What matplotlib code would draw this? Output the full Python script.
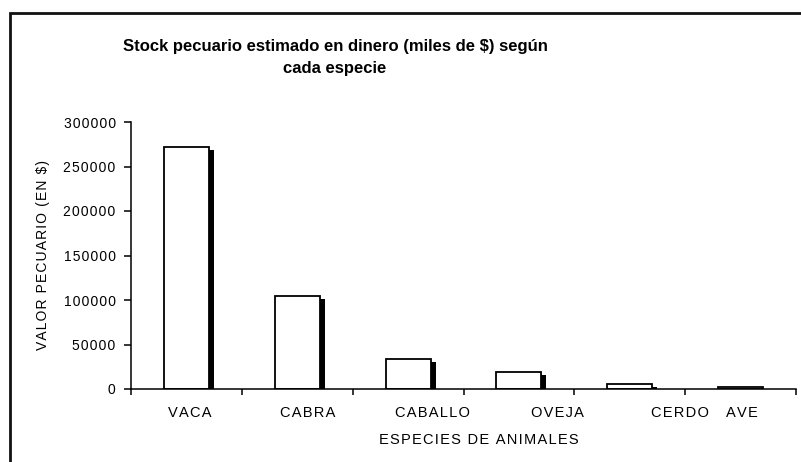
import numpy as np
import matplotlib
matplotlib.use("Agg")
import matplotlib.pyplot as plt
from matplotlib import transforms
from matplotlib.patches import Rectangle

especies = ["VACA", "CABRA", "CABALLO", "OVEJA", "CERDO", "AVE"]
valores = [272000, 104000, 33500, 19000, 5600, 2500]
yticks = [0, 50000, 100000, 150000, 200000, 250000, 300000]

titulo = ["Stock pecuario estimado en dinero (miles de $) según", "cada especie"]
xlabel = "ESPECIES DE ANIMALES"
ylabel = "VALOR PECUARIO (EN $)"

plt.rcParams["font.family"] = ["Liberation Sans", "DejaVu Sans"]


def spaced(s, sp="\u200a"):
    # Excel-style letter spacing
    return sp.join(s)


W, H = 801, 462
fig = plt.figure(figsize=(W / 100, H / 100), dpi=100)
ax = fig.add_axes([131 / W, (H - 389) / H, 665 / W, 267 / H])

x = np.arange(len(especies))
ancho = 0.406

# black shadow, shifted right and down
sombra = transforms.offset_copy(ax.transData, fig=fig, x=5, y=-3, units="dots")
ax.bar(x, valores, ancho, color="black", transform=sombra, zorder=1)
ax.bar(x, valores, ancho, color="white", edgecolor="black", linewidth=1.3, zorder=2)

ax.set_xlim(-0.5, len(especies) - 0.5)
ax.set_ylim(0, 300000)

for s in ["top", "right"]:
    ax.spines[s].set_visible(False)
ax.spines["left"].set_linewidth(1.1)
ax.spines["bottom"].set_linewidth(1.1)

ax.set_yticks(yticks)
ax.set_yticklabels([spaced(str(v)) for v in yticks])
ax.tick_params(axis="y", direction="out", length=5, width=1.1, pad=6, labelsize=10)

ax.set_xticks(np.arange(len(especies) + 1) - 0.5)
ax.set_xticklabels([])
ax.tick_params(axis="x", direction="out", length=4, width=1.1)

# category labels (Excel placed them a bit off-centre)
desplaz = [3, 10, 24, 39, 50, 1]
for i, (nombre, dx) in enumerate(zip(especies, desplaz)):
    ax.annotate(spaced(nombre), xy=(i, 0), xycoords=("data", "axes fraction"),
                xytext=(dx, -24), textcoords="offset pixels",
                ha="center", va="center", fontsize=10.5)

ax.set_xlabel(spaced(xlabel), fontsize=10.5, va="center")
ax.xaxis.set_label_coords((479 - 131) / 665, (389 - 440) / 267)
ax.set_ylabel(spaced(ylabel), fontsize=10, va="center")
ax.yaxis.set_label_coords((43 - 131) / 665, 0.5)

fig.text(335 / W, 1 - 46 / H, titulo[0], ha="center", va="center",
         fontsize=12, fontweight="bold")
fig.text(335 / W, 1 - 68 / H, titulo[1], ha="center", va="center",
         fontsize=12, fontweight="bold")

# outer chart border
fig.add_artist(Rectangle((10 / W, -0.1), 1.2, 1.1 - 13 / H, transform=fig.transFigure,
                         fill=False, edgecolor="#111111", linewidth=2, clip_on=False))

fig.savefig("out.png", dpi=100)
